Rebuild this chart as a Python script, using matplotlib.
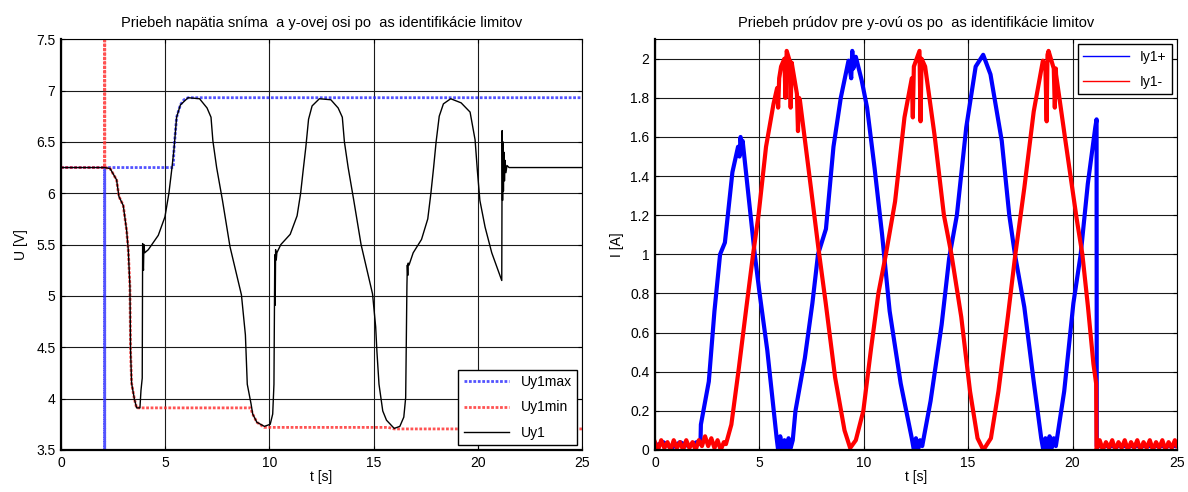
import numpy as np
import matplotlib.pyplot as plt

plt.rcParams['font.family'] = ['Liberation Sans', 'DejaVu Sans']

# ---- napatie (lavy graf) ----
t_umax = [0, 2.1, 2.1, 2.1, 5.39, 5.42, 5.55, 5.73, 5.9, 6.1, 25]
u_max = [6.25, 6.25, 3.0, 6.25, 6.25, 6.42, 6.74, 6.86, 6.91, 6.93, 6.93]

t_umin = [0, 2.1, 2.1, 2.1, 2.36, 2.67, 2.78, 2.99, 3.15, 3.23, 3.31, 3.34, 3.39, 3.52, 3.63,
          9.1, 9.2, 9.4, 9.76, 15.7, 15.99, 25]
u_min = [6.25, 6.25, 8.0, 6.25, 6.24, 6.13, 5.97, 5.88, 5.64, 5.45, 5.09, 4.47, 4.15, 4.0, 3.91,
         3.91, 3.85, 3.77, 3.72, 3.72, 3.705, 3.705]

t_u = [0, 2.1, 2.36, 2.67, 2.78, 2.99, 3.15, 3.23, 3.31, 3.34, 3.39, 3.52, 3.63, 3.79, 3.84,
       3.9, 3.92, 3.94, 3.96, 3.98, 4.02, 4.19, 4.67, 4.99, 5.18, 5.31, 5.42, 5.55, 5.73, 6.1,
       6.65, 7.01, 7.2, 7.29, 7.47, 7.75, 8.11, 8.66, 8.85, 8.94, 9.12, 9.2, 9.4, 9.76, 10.04,
       10.16, 10.22, 10.26, 10.28, 10.3, 10.33, 10.36, 10.55, 11.0, 11.33, 11.5, 11.62, 11.75,
       11.88, 12.05, 12.4, 12.95, 13.3, 13.5, 13.6, 13.78, 14.05, 14.4, 14.95, 15.1, 15.16,
       15.26, 15.44, 15.62, 15.99, 16.26, 16.45, 16.54, 16.6, 16.62, 16.64, 16.66, 16.7, 16.9,
       17.3, 17.6, 17.75, 17.88, 18.0, 18.15, 18.35, 18.7, 19.2, 19.63, 19.87, 19.98, 20.1,
       20.35, 20.67, 21.15, 21.17, 21.19, 21.21, 21.23, 21.25, 21.28, 21.31, 21.35, 21.4,
       21.5, 25]
u = [6.25, 6.25, 6.24, 6.13, 5.97, 5.88, 5.64, 5.45, 5.09, 4.47, 4.15, 4.0, 3.91, 3.91, 4.08,
     4.2, 5.51, 5.3, 5.25, 5.5, 5.42, 5.45, 5.59, 5.77, 6.0, 6.22, 6.42, 6.74, 6.86, 6.93,
     6.92, 6.83, 6.74, 6.51, 6.25, 5.93, 5.48, 5.01, 4.62, 4.14, 3.95, 3.85, 3.77, 3.73, 3.75,
     3.85, 4.14, 5.4, 4.91, 5.45, 5.35, 5.42, 5.5, 5.6, 5.78, 6.0, 6.22, 6.45,
     6.72, 6.85, 6.92, 6.91, 6.83, 6.74, 6.5, 6.25, 5.93, 5.5, 5.02, 4.7, 4.46,
     4.14, 3.88, 3.79, 3.71, 3.73, 3.82, 4.01, 5.1, 5.3, 5.2, 5.32, 5.3, 5.42,
     5.55, 5.75, 6.0, 6.25, 6.5, 6.75, 6.87, 6.92, 6.88, 6.79, 6.52, 6.22, 5.93,
     5.67, 5.42, 5.15, 6.61, 5.93, 6.5, 6.02, 6.4, 6.12, 6.32, 6.2, 6.27,
     6.25, 6.25]

# ---- prudy (pravy graf) ----
t_ip = [0, 0.4, 0.8, 1.2, 1.6, 2.0, 2.18, 2.2, 2.58, 2.85, 3.12, 3.35, 3.71, 3.98, 4.05, 4.1,
        4.16, 4.2, 4.34, 4.6, 4.78, 5.0, 5.38, 5.69, 5.83, 5.9, 6.0, 6.1, 6.2, 6.3, 6.4, 6.5,
        6.6, 6.73, 7.18, 7.54, 7.81, 8.19, 8.55, 8.9, 9.27, 9.4, 9.45, 9.5, 9.62, 9.9, 10.16,
        10.52, 10.88, 11.24, 11.77, 12.3, 12.4, 12.5, 12.6, 12.7, 12.8, 13.2, 13.73, 14.09,
        14.46, 14.91, 15.36, 15.72, 16.07, 16.61, 16.97, 17.24, 17.69, 18.14, 18.5, 18.6, 18.7,
        18.8, 18.9, 19.0, 19.1, 19.2, 19.6, 20.04, 20.39, 20.73, 21.09, 21.15, 21.16, 25]
i_p = [0.02, 0.04, 0.01, 0.04, 0.02, 0.04, 0.03, 0.13, 0.35, 0.71, 1.0, 1.06, 1.42, 1.55, 1.5,
       1.6, 1.52, 1.58, 1.44, 1.18, 1.0, 0.81, 0.51, 0.2, 0.06, 0.0, 0.07, 0.01, 0.05, 0.0, 0.06,
       0.01, 0.05, 0.2, 0.47, 0.75, 1.0, 1.13, 1.55, 1.8, 1.99, 1.9, 2.04, 1.95, 2.01, 1.89,
       1.75, 1.44, 1.1, 0.71, 0.34, 0.06, 0.0, 0.06, 0.0, 0.05, 0.02, 0.25, 0.64, 0.98,
       1.2, 1.65, 1.96, 2.02, 1.92, 1.58, 1.2, 1.0, 0.73, 0.35, 0.06, 0.0, 0.06, 0.0,
       0.07, 0.01, 0.06, 0.02, 0.3, 0.75, 1.0, 1.36, 1.65, 1.69, 0.02, 0.02]

t_in = [0, 0.15, 0.3, 0.45, 0.6, 0.75, 0.9, 1.05, 1.2, 1.35, 1.5, 1.65, 1.8, 1.95, 2.1, 2.25,
        2.4, 2.55, 2.7, 2.85, 3.0, 3.15, 3.3, 3.4, 3.66, 4.02, 4.38, 4.7, 4.96, 5.32, 5.68,
        5.85, 5.9, 5.95, 6.04, 6.2, 6.25, 6.31, 6.45, 6.5, 6.55, 6.58, 6.8, 6.85, 6.9, 6.94,
        7.47, 7.83, 8.18, 8.63, 9.08, 9.35, 9.62, 9.98, 10.34, 10.7, 11.06, 11.5, 11.95, 12.3,
        12.35, 12.4, 12.67, 12.72, 12.77, 12.94, 13.39, 13.84, 14.2, 14.67, 15.09, 15.45, 15.73,
        16.09, 16.45, 16.9, 17.26, 17.69, 18.14, 18.58, 18.7, 18.76, 18.8, 18.85, 19.1, 19.15,
        19.2, 19.21, 19.66, 20.2, 20.47, 20.74, 21.0, 21.13, 21.15, 21.3, 21.45, 21.6, 21.75,
        21.9, 22.05, 22.2, 22.35, 22.5, 22.65, 22.8, 22.95, 23.1, 23.25, 23.4, 23.55, 23.7,
        23.85, 24.0, 24.15, 24.3, 24.45, 24.6, 24.75, 24.9, 25]
i_n = [0.04, 0.0, 0.05, 0.01, 0.04, 0.0, 0.05, 0.01, 0.04, 0.0, 0.05, 0.01, 0.04, 0.0, 0.05,
       0.02, 0.07, 0.02, 0.06, 0.01, 0.05, 0.0, 0.04, 0.03, 0.13, 0.42, 0.73, 1.0, 1.2, 1.55,
       1.77, 1.85, 1.75, 1.9, 1.96, 2.0, 1.8, 2.04, 1.99, 1.75, 1.98, 1.96, 1.82, 1.63, 1.8,
       1.79, 1.34, 1.03, 0.75, 0.37, 0.1, 0.01, 0.05, 0.2, 0.51, 0.8, 1.0, 1.27, 1.7, 1.9,
       1.7, 1.96, 2.04, 1.68, 2.0, 1.96, 1.61, 1.2, 1.0, 0.68, 0.3, 0.06, 0.0,
       0.06, 0.3, 0.68, 1.0, 1.34, 1.73, 1.99, 1.95, 1.68, 2.02, 2.04, 1.95, 1.75,
       1.95, 1.92, 1.58, 1.18, 1.0, 0.73, 0.44, 0.34, 0.0, 0.05, 0.0, 0.04, 0.01,
       0.05, 0.0, 0.04, 0.01, 0.05, 0.0, 0.04, 0.01, 0.05, 0.0, 0.04, 0.01, 0.05,
       0.0, 0.04, 0.01, 0.05, 0.0, 0.04, 0.01, 0.05, 0.02]

x_ticks = [0, 5, 10, 15, 20, 25]
u_ticks = [3.5, 4, 4.5, 5, 5.5, 6, 6.5, 7, 7.5]
u_ticklabels = ['3.5', '4', '4.5', '5', '5.5', '6', '6.5', '7', '7.5']
i_ticks = [0, 0.2, 0.4, 0.6, 0.8, 1, 1.2, 1.4, 1.6, 1.8, 2]
i_ticklabels = ['0', '0.2', '0.4', '0.6', '0.8', '1', '1.2', '1.4', '1.6', '1.8', '2']


def style_axes(ax):
    ax.grid(True, color='0.1', linewidth=0.8)
    ax.set_axisbelow(True)
    ax.tick_params(direction='in', length=3, labelsize=10, top=True, right=True, pad=4)
    for side in ['left', 'bottom']:
        ax.spines[side].set_linewidth(1.6)
    for side in ['top', 'right']:
        ax.spines[side].set_linewidth(0.8)


fig = plt.figure(figsize=(11.88, 4.92), dpi=100)

ax1 = fig.add_axes([0.0513, 0.0854, 0.4386, 0.835])
ax1.plot(t_umax, u_max, color='#2828ff', linestyle=(0, (1, 0.6)), linewidth=2, alpha=0.8, label='Uy1max')
ax1.plot(t_umin, u_min, color='#ff2828', linestyle=(0, (1, 0.6)), linewidth=2, alpha=0.8, label='Uy1min')
ax1.plot(t_u, u, color='black', linewidth=1, label='Uy1')
ax1.set_xlim(0, 25)
ax1.set_ylim(3.5, 7.5)
ax1.set_xticks(x_ticks)
ax1.set_yticks(u_ticks)
ax1.set_yticklabels(u_ticklabels)
ax1.set_xlabel('t [s]', fontsize=10, labelpad=0)
ax1.set_ylabel('U [V]', fontsize=10, labelpad=6)
ax1.set_title('Priebeh napätia sníma  a y-ovej osi po  as identifikácie limitov', fontsize=10.5, pad=9)
style_axes(ax1)
leg1 = ax1.legend(loc='lower right', fontsize=10, fancybox=False, framealpha=1, edgecolor='black',
                  handlelength=3.3, labelspacing=0.8, borderaxespad=0.35)
leg1.get_frame().set_linewidth(1)

ax2 = fig.add_axes([0.5513, 0.0854, 0.4394, 0.835])
ax2.plot(t_ip, i_p, color='blue', linewidth=3, label='Iy1+')
ax2.plot(t_in, i_n, color='red', linewidth=3, label='Iy1-')
ax2.set_xlim(0, 25)
ax2.set_ylim(0, 2.1)
ax2.set_xticks(x_ticks)
ax2.set_yticks(i_ticks)
ax2.set_yticklabels(i_ticklabels)
ax2.set_xlabel('t [s]', fontsize=10, labelpad=0)
ax2.set_ylabel('I [A]', fontsize=10)
ax2.set_title('Priebeh prúdov pre y-ovú os po  as identifikácie limitov', fontsize=10.5, pad=9)
style_axes(ax2)
leg2 = ax2.legend(loc='upper right', fontsize=10, fancybox=False, framealpha=1, edgecolor='black',
                  handlelength=3.3, labelspacing=0.8, borderaxespad=0.35)
leg2.get_frame().set_linewidth(1)
for line in leg2.get_lines():
    line.set_linewidth(1)

fig.savefig('out.png', dpi=100)
